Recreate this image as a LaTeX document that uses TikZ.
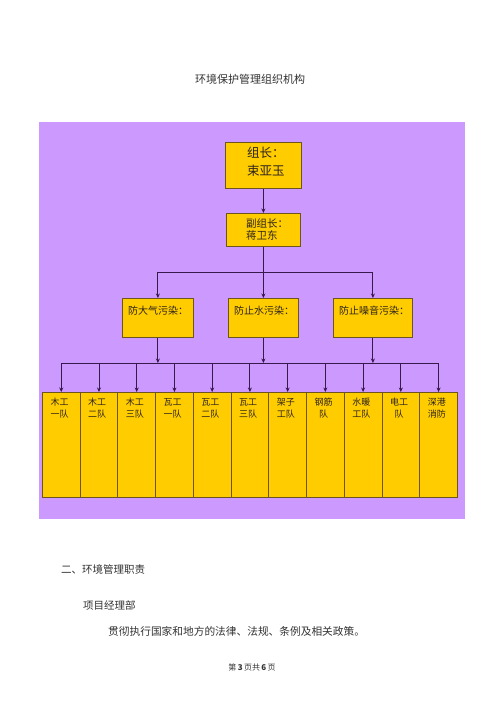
\documentclass[tikz,border=0pt]{standalone}
\usepackage{fontspec}
\newfontfamily\cjk{Noto Sans CJK SC}
\usetikzlibrary{arrows.meta}
\definecolor{bgpurple}{RGB}{204,153,255}
\definecolor{boxgold}{RGB}{255,204,0}
\definecolor{boxline}{RGB}{110,85,30}
\definecolor{conn}{RGB}{55,25,75}
\definecolor{txt}{RGB}{45,35,25}
\begin{document}
\begin{tikzpicture}[x=1pt,y=-1pt,
  box/.style={draw=boxline, fill=boxgold, line width=0.8pt, inner sep=0pt, anchor=north west},
  ln/.style={draw=conn, line width=0.9pt},
  arr/.style={draw=conn, line width=0.9pt, -{Stealth[length=4.5pt,width=4pt]}},
  lbl/.style={text=txt, inner sep=0pt, align=left},
  plain/.style={text=black!80, inner sep=0pt}]
\fill[white] (0,0) rectangle (500,707);
\useasboundingbox (0,0) rectangle (500,707);
% title
\node[plain, font=\cjk\fontsize{11pt}{13pt}\selectfont] (title) at (250,79) {环境保护管理组织机构};
% background panel
\fill[bgpurple] (39,122) rectangle (465,519);
% leader boxes
\node[box, minimum width=76pt, minimum height=46pt] (lead) at (225,142) {};
\node[lbl, anchor=north west, font=\cjk\fontsize{12.5pt}{18pt}\selectfont] (leadt) at (247,147) {组长：\\束亚玉};
\node[box, minimum width=74pt, minimum height=33pt] (vice) at (226,213) {};
\node[lbl, anchor=north west, font=\cjk\fontsize{10.5pt}{12.5pt}\selectfont] (vicet) at (246,218) {副组长：\\蒋卫东};
% group boxes
\node[box, minimum width=71pt, minimum height=39pt] (g1) at (122,298) {};
\node[box, minimum width=70pt, minimum height=39pt] (g2) at (228,298) {};
\node[box, minimum width=79pt, minimum height=39pt] (g3) at (333,298) {};
\node[lbl, anchor=west, font=\cjk\fontsize{10pt}{12pt}\selectfont] (g1t) at (128,311) {防大气污染：};
\node[lbl, anchor=west, font=\cjk\fontsize{10pt}{12pt}\selectfont] (g2t) at (234,311) {防止水污染：};
\node[lbl, anchor=west, font=\cjk\fontsize{10pt}{12pt}\selectfont] (g3t) at (339,311) {防止噪音污染：};
% connectors top
\draw[arr] (lead.south) -- (vice.north);
\coordinate (j2) at (vice.south |- 0,272);
\coordinate (j1) at (g1.north |- 0,272);
\coordinate (j3) at (g3.north |- 0,272);
\draw[ln] (vice.south) -- (j2);
\draw[ln] (j1) -- (j3);
\draw[arr] (j1) -- (g1.north);
\draw[arr] (j2) -- (g2.north);
\draw[arr] (j3) -- (g3.north);
% team boxes
\foreach \a/\b [count=\i from 0] in {木工/一队,木工/二队,木工/三队,瓦工/一队,瓦工/二队,瓦工/三队,架子/工队,钢筋/队,水暖/工队,电工/队,深港/消防}{
  \node[box, minimum width=37.7pt, minimum height=105pt] (b\i) at ({42+37.73*\i},392) {};
  \node[text=txt, inner sep=0pt, align=center, anchor=north, font=\cjk\fontsize{9pt}{12pt}\selectfont] (bt\i) at ({42+37.73*\i+17.5},398) {\a\\\b};
  \coordinate (h\i) at (b\i.north |- 0,363);
  \draw[arr] (h\i) -- (b\i.north);
}
\draw[ln] (h0) -- (h10);
\coordinate (k1) at (g1.south |- 0,363);
\coordinate (k2) at (g2.south |- 0,363);
\coordinate (k3) at (g3.south |- 0,363);
\draw[arr] (g1.south) -- (k1);
\draw[arr] (g2.south) -- (k2);
\draw[arr] (g3.south) -- (k3);
% body text
\node[plain, anchor=west, font=\cjk\fontsize{10.5pt}{12pt}\selectfont] (s2) at (61,569) {二、环境管理职责};
\node[plain, anchor=west, font=\cjk\fontsize{10.5pt}{12pt}\selectfont] (s3) at (83,605) {项目经理部};
\node[plain, anchor=west, font=\cjk\fontsize{10.7pt}{12pt}\selectfont] (s4) at (108,631) {贯彻执行国家和地方的法律、法规、条例及相关政策。};
\node[plain, font=\cjk\fontsize{8pt}{10pt}\selectfont] (foot) at (252,667) {第\,\textbf{3}\,页共\,\textbf{6}\,页};
\end{tikzpicture}
\end{document}
